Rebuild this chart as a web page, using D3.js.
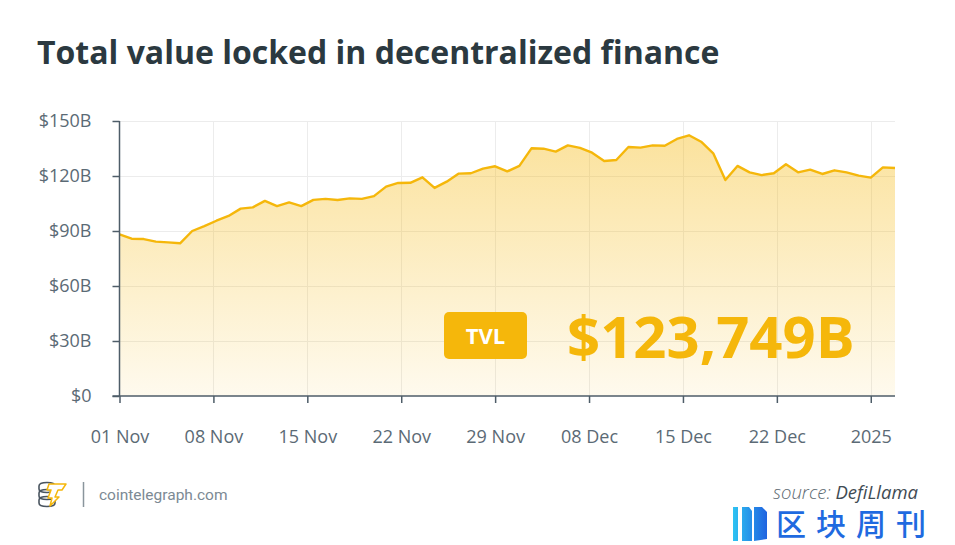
<!DOCTYPE html>
<html>
<head>
<meta charset="utf-8">
<script src="https://cdn.jsdelivr.net/npm/d3@7"></script>
<style>
    body{margin:0;background:#fff;}
    svg{display:block;font-family:'Open Sans',sans-serif;}
</style>
</head>
<body>
<svg id="chart" width="955" height="545"></svg>
<script>
// daily TVL, $B
var tvlValues = [88.2, 85.8, 85.6, 84.2, 83.8, 83.3, 90.0, 92.7, 95.6, 98.2,
    102.2, 102.9, 106.4, 103.6, 105.6, 103.6, 107.0, 107.5, 106.9, 107.8,
    107.5, 109.0, 114.2, 116.2, 116.3, 119.3, 113.5, 116.9, 121.3, 121.5,
    124.0, 125.3, 122.5, 125.5, 135.1, 134.9, 133.3, 136.7, 135.3, 132.7,
    128.2, 128.7, 135.8, 135.5, 136.7, 136.5, 140.2, 142.2, 138.7, 132.4,
    117.8, 125.5, 122.0, 120.5, 121.5, 126.4, 122.0, 123.5, 121.1, 123.1,
    122.0, 120.2, 119.1, 124.7, 124.4];
var xTickLabels = ['01 Nov', '08 Nov', '15 Nov', '22 Nov', '29 Nov', '08 Dec', '15 Dec', '22 Dec', '2025'];
var xTickIndex = [0, 7.75, 15.5, 23.25, 31, 38.75, 46.5, 54.25, 62];
var yTickValues = [0, 30, 60, 90, 120, 150];
var tvlLabel = 'TVL';
var tvlCurrent = '$123,749B';
var titleText = 'Total value locked in decentralized finance';

var svg = d3.select('#chart');
var plotLeft = 119.5, plotRight = 895, plotTop = 121, plotBottom = 396;
var gold = '#f5b70b';
var axisColor = '#4e5d68';
var labelColor = '#5b6a75';

var x = d3.scaleLinear().domain([0, tvlValues.length - 1]).range([plotLeft, plotRight]);
var y = d3.scaleLinear().domain([0, 150]).range([plotBottom, plotTop]);

svg.append('text')
    .attr('x', 37).attr('y', 64)
    .attr('font-size', 32).attr('font-weight', 700)
    .attr('fill', '#2b3940')
    .text(titleText);

// gradient under the line
var defs = svg.append('defs');
var grad = defs.append('linearGradient').attr('id', 'areaFill')
    .attr('gradientUnits', 'userSpaceOnUse')
    .attr('x1', 0).attr('x2', 0).attr('y1', plotTop).attr('y2', plotBottom);
grad.append('stop').attr('offset', '0%').attr('stop-color', gold).attr('stop-opacity', 0.42);
grad.append('stop').attr('offset', '100%').attr('stop-color', gold).attr('stop-opacity', 0.07);

// grid
var grid = svg.append('g').attr('stroke', '#ececec').attr('stroke-width', 1);
grid.selectAll('.hgrid').data(yTickValues.slice(1)).enter().append('line')
    .attr('x1', plotLeft).attr('x2', plotRight)
    .attr('y1', function (d) { return Math.round(y(d)) + 0.5; })
    .attr('y2', function (d) { return Math.round(y(d)) + 0.5; });
grid.selectAll('.vgrid').data(xTickIndex.slice(1)).enter().append('line')
    .attr('y1', plotTop).attr('y2', plotBottom)
    .attr('x1', function (d) { return Math.round(x(d)) + 0.5; })
    .attr('x2', function (d) { return Math.round(x(d)) + 0.5; });

var area = d3.area()
    .x(function (d, i) { return x(i); })
    .y0(y(0))
    .y1(function (d) { return y(d); });
var line = d3.line()
    .x(function (d, i) { return x(i); })
    .y(function (d) { return y(d); });

svg.append('path').datum(tvlValues).attr('d', area).attr('fill', 'url(#areaFill)');
svg.append('path').datum(tvlValues).attr('d', line)
    .attr('fill', 'none').attr('stroke', gold).attr('stroke-width', 2.4)
    .attr('stroke-linejoin', 'round');

// axes
var yAxis = d3.axisLeft(y).tickValues(yTickValues).tickSize(7).tickPadding(21)
    .tickFormat(function (v) { return v === 0 ? '$0' : '$' + v + 'B'; });
var xAxis = d3.axisBottom(x).tickValues(xTickIndex).tickSize(7).tickPadding(27)
    .tickFormat(function (d, i) { return xTickLabels[i]; });

var gy = svg.append('g').attr('transform', 'translate(' + plotLeft + ',0)').call(yAxis);
var gx = svg.append('g').attr('transform', 'translate(0,' + plotBottom + ')').call(xAxis);
[gy, gx].forEach(function (g) {
    g.select('.domain').attr('stroke', axisColor).attr('stroke-width', 1.5);
    g.selectAll('.tick line').attr('stroke', axisColor).attr('stroke-width', 1.5);
    g.selectAll('.tick text').attr('fill', labelColor)
        .attr('font-size', 18).attr('font-family', "'Open Sans',sans-serif");
});
gy.select('.domain').attr('d', 'M0,' + plotTop + 'V' + plotBottom);
gx.select('.domain').attr('d', 'M' + (plotLeft - 7) + ',0H' + plotRight);

// TVL badge + big number
svg.append('rect').attr('x', 444).attr('y', 312).attr('width', 83).attr('height', 47)
    .attr('rx', 5).attr('fill', gold);
svg.append('text').attr('x', 485.5).attr('y', 344)
    .attr('text-anchor', 'middle').attr('font-size', 22).attr('font-weight', 700)
    .attr('fill', '#fff').text(tvlLabel);
svg.append('text').attr('x', 567).attr('y', 358)
    .attr('font-size', 58).attr('font-weight', 700)
    .attr('fill', gold).text(tvlCurrent);

// footer: cointelegraph logo
var logo = svg.append('g').attr('fill', 'none').attr('stroke', '#4a5560').attr('stroke-width', 1.6);
[0, 7, 14].forEach(function (dy) {
    logo.append('path').attr('d', 'M39,' + (486 + dy) + 'q0,-3.5 8,-3.5 q8,0 8,3.5 v3 q0,3.5 -8,3.5 q-8,0 -8,-3.5 z');
});
svg.append('path')
    .attr('d', 'M49,484 H66 L62,490 H58 L55,497 H59 L50,506 L52,498 H48 L51,490 H47 Z')
    .attr('fill', '#fff').attr('stroke', '#f5b70b').attr('stroke-width', 1.5)
    .attr('stroke-linejoin', 'round');
svg.append('line').attr('x1', 83.5).attr('x2', 83.5).attr('y1', 482).attr('y2', 507)
    .attr('stroke', '#8a959c').attr('stroke-width', 1.5);
svg.append('text').attr('x', 99).attr('y', 499.5)
    .attr('font-size', 15.5).attr('font-family', 'Roboto,sans-serif')
    .attr('fill', '#7c8a94').text('cointelegraph.com');

// source
var src = svg.append('text').attr('x', 918).attr('y', 499)
    .attr('text-anchor', 'end').attr('font-size', 18.5).attr('font-style', 'italic');
src.append('tspan').attr('fill', '#5d6a72').attr('font-weight', 300).text('source: ');
src.append('tspan').attr('fill', '#3f4c54').text('DefiLlama');

// watermark
var wm = defs.append('linearGradient').attr('id', 'wmFill').attr('x1', 0).attr('x2', 1);
wm.append('stop').attr('offset', '0%').attr('stop-color', '#2ec3f2');
wm.append('stop').attr('offset', '100%').attr('stop-color', '#1f63e0');
svg.append('path').attr('d', 'M733,507 h5 v34 h-5 z M742,507 h7 l3,4 v30 h-10 z M754,507 h8 l5,5 v27 l-13,2 z')
    .attr('fill', 'url(#wmFill)');
svg.append('text').attr('x', 776).attr('y', 535)
    .attr('font-size', 30).attr('font-weight', 500)
    .attr('letter-spacing', 10)
    .attr('font-family', "'Noto Sans CJK SC',sans-serif")
    .attr('fill', '#1f6ae0').text('区块周刊');
</script>
</body>
</html>
